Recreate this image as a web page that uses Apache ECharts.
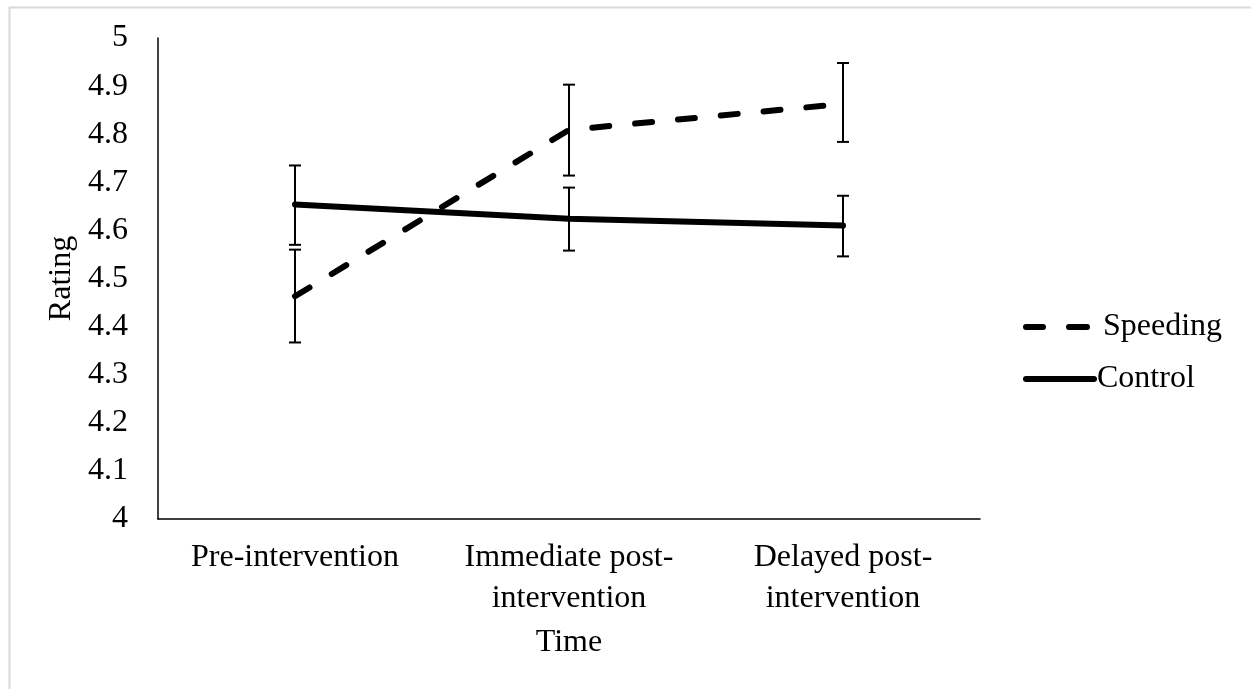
<!DOCTYPE html>
<html>
<head>
<meta charset="utf-8">
<script src="https://cdn.jsdelivr.net/npm/echarts@6/dist/echarts.min.js"></script>
<style>
html,body{margin:0;padding:0;background:#fff;}
#chart{width:1251px;height:689px;}
</style>
</head>
<body>
<div id="chart"></div>
<script>
var categories = ['Pre-intervention', 'Immediate post-\nintervention', 'Delayed post-\nintervention'];
var speedingMean = [4.463, 4.809, 4.863];
var speedingLow = [4.367, 4.714, 4.784];
var speedingHigh = [4.560, 4.903, 4.948];
var controlMean = [4.654, 4.624, 4.610];
var controlLow = [4.570, 4.558, 4.546];
var controlHigh = [4.735, 4.689, 4.672];
var yMin = 4, yMax = 5, yStep = 0.1;

var FONT = '"Liberation Serif", "Times New Roman", serif';
var FS = 32;

function errData(low, high) {
  return low.map(function (l, i) { return [i, l, high[i]]; });
}
function errRender(params, api) {
  var x = api.value(0);
  var lo = api.coord([x, api.value(1)]);
  var hi = api.coord([x, api.value(2)]);
  var w = 6;
  var st = { stroke: '#000', lineWidth: 2 };
  return {
    type: 'group',
    children: [
      { type: 'line', shape: { x1: lo[0], y1: lo[1], x2: hi[0], y2: hi[1] }, style: st },
      { type: 'line', shape: { x1: lo[0] - w, y1: lo[1], x2: lo[0] + w, y2: lo[1] }, style: st },
      { type: 'line', shape: { x1: hi[0] - w, y1: hi[1], x2: hi[0] + w, y2: hi[1] }, style: st }
    ]
  };
}

var DASH_ICON = 'path://M3,0 H20 A3,3 0 0 1 20,6 H3 A3,3 0 0 1 3,0 Z M46,0 H64 A3,3 0 0 1 64,6 H46 A3,3 0 0 1 46,0 Z';
var SOLID_ICON = 'path://M3,0 H71 A3,3 0 0 1 71,6 H3 A3,3 0 0 1 3,0 Z';

var chart = echarts.init(document.getElementById('chart'), null, { renderer: 'canvas' });
chart.setOption({
  animation: false,
  backgroundColor: '#fff',
  graphic: [{
    type: 'rect', left: 7, top: 5, silent: true, z: -10,
    shape: { width: 1400, height: 900 },
    style: { fill: 'none', stroke: '#d9d9d9', lineWidth: 2 }
  }],
  grid: { left: 158, right: 271, top: 38, bottom: 170, containLabel: false },
  legend: [{
    left: 1018, top: 306,
    itemWidth: 67, itemHeight: 6,
    selectedMode: false,
    data: [{ name: 'Speeding', icon: DASH_ICON,
      itemStyle: { color: '#000', borderWidth: 0 },
      lineStyle: { width: 0 } }],
    textStyle: { fontFamily: FONT, fontSize: FS, color: '#000', padding: [0, 0, 0, 8] }
  }, {
    left: 1018, top: 358,
    itemWidth: 74, itemHeight: 6,
    selectedMode: false,
    data: [{ name: 'Control', icon: SOLID_ICON,
      itemStyle: { color: '#000', borderWidth: 0 },
      lineStyle: { width: 0 } }],
    textStyle: { fontFamily: FONT, fontSize: FS, color: '#000', padding: [0, 0, 0, -5] }
  }],
  xAxis: {
    type: 'category',
    data: categories,
    boundaryGap: true,
    name: 'Time',
    nameLocation: 'middle',
    nameGap: 108,
    nameTextStyle: { fontFamily: FONT, fontSize: FS, color: '#000' },
    axisLine: { lineStyle: { color: '#000', width: 1.5 } },
    axisTick: { show: false },
    axisLabel: { fontFamily: FONT, fontSize: FS, color: '#000', margin: 18, lineHeight: 41, interval: 0 },
    splitLine: { show: false }
  },
  yAxis: {
    type: 'value',
    min: yMin, max: yMax, interval: yStep,
    name: 'Rating',
    nameLocation: 'middle',
    nameGap: 78,
    nameTextStyle: { fontFamily: FONT, fontSize: FS, color: '#000' },
    axisLine: { show: true, lineStyle: { color: '#000', width: 1.5 } },
    axisTick: { show: false },
    axisLabel: { fontFamily: FONT, fontSize: FS, color: '#000', margin: 30,
      formatter: function (v) { return String(Math.round(v * 10) / 10); } },
    splitLine: { show: false }
  },
  series: [{
    name: 'Speeding',
    type: 'line',
    data: speedingMean,
    symbol: 'none',
    lineStyle: { color: '#000', width: 6, type: [17, 26], cap: 'round' },
    itemStyle: { color: '#000' },
    z: 3
  }, {
    name: 'Control',
    type: 'line',
    data: controlMean,
    symbol: 'none',
    lineStyle: { color: '#000', width: 6, type: 'solid', cap: 'round' },
    itemStyle: { color: '#000' },
    z: 3
  }, {
    name: 'Speeding',
    type: 'custom',
    renderItem: errRender,
    data: errData(speedingLow, speedingHigh),
    encode: { x: 0, y: [1, 2] },
    z: 4
  }, {
    name: 'Control',
    type: 'custom',
    renderItem: errRender,
    data: errData(controlLow, controlHigh),
    encode: { x: 0, y: [1, 2] },
    z: 4
  }]
});
</script>
</body>
</html>
